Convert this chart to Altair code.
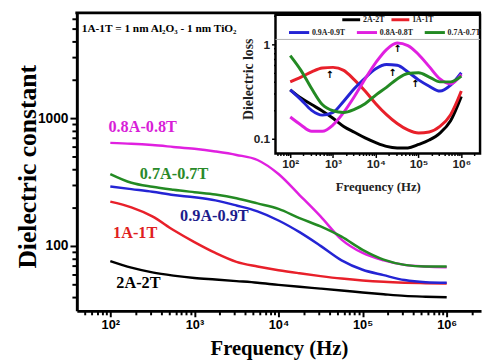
import altair as alt
import pandas as pd

# ---------------- data ----------------
freq = [100, 178, 316, 562, 1000, 1778, 3162, 5623, 10000, 17783, 31623,
        56234, 100000, 177828, 316228, 562341, 1000000]
series = ["2A-2T", "1A-1T", "0.9A-0.9T", "0.8A-0.8T", "0.7A-0.7T"]
colors = ["#000000", "#e8202a", "#2424d4", "#e020e0", "#238a23"]

eps_2A = [76, 67.5, 62, 58.5, 56, 54.5, 53, 51.5, 49.5, 47.8, 46.3, 44.8, 43.2, 41.8, 40.6, 40, 39.6]
eps_1A = [222, 200, 170, 133, 107, 88, 75, 69, 64.5, 61, 58, 55.5, 53.6, 52.3, 51.5, 51, 50.7]
eps_09 = [292, 278, 265, 250, 240, 227, 207, 186, 158, 128, 100, 77, 65, 59, 54, 52, 51.5]
eps_08 = [640, 630, 615, 595, 575, 548, 515, 470, 365, 250, 170, 112, 88, 77, 71, 69, 68]
eps_07 = [365, 312, 290, 275, 263, 252, 236, 215, 195, 165, 142, 118, 93, 78, 71, 69, 69]

loss_2A = [0.33, 0.27, 0.23, 0.197, 0.165, 0.135, 0.117, 0.102, 0.091, 0.083, 0.080, 0.080, 0.087, 0.097, 0.115, 0.155, 0.28]
loss_1A = [0.40, 0.45, 0.51, 0.56, 0.57, 0.53, 0.42, 0.32, 0.235, 0.18, 0.145, 0.124, 0.115, 0.118, 0.135, 0.18, 0.32]
loss_09 = [0.33, 0.26, 0.20, 0.178, 0.19, 0.25, 0.34, 0.44, 0.55, 0.61, 0.60, 0.51, 0.42, 0.36, 0.32, 0.37, 0.50]
loss_08 = [0.17, 0.14, 0.12, 0.12, 0.14, 0.19, 0.28, 0.43, 0.64, 0.88, 1.03, 0.97, 0.78, 0.58, 0.43, 0.38, 0.48]
loss_07 = [0.76, 0.53, 0.34, 0.23, 0.198, 0.19, 0.205, 0.235, 0.29, 0.35, 0.43, 0.49, 0.50, 0.45, 0.40, 0.40, 0.46]

label_freq = [118, 108, 676, 95, 224]
label_eps = [51, 126, 170, 853, 365]
label_colors = ["#000000", "#e02020", "#1c1c8c", "#d81ed8", "#2a8a2a"]

arrow_freq = [830, 24500, 32000, 83000]
arrow_loss = [0.475, 0.50, 0.89, 0.38]

annotation = "1A-1T = 1 nm Al\u2082O\u2083 - 1 nm TiO\u2082"

# ---------------- tables ----------------
eps_all = [eps_2A, eps_1A, eps_09, eps_08, eps_07]
loss_all = [loss_2A, loss_1A, loss_09, loss_08, loss_07]
main_df = pd.DataFrame([
    {"freq": f, "value": v, "series": s, "order": i}
    for s, vals in zip(series, eps_all) for i, (f, v) in enumerate(zip(freq, vals))
])
inset_df = pd.DataFrame([
    {"freq": f, "value": v, "series": s, "order": i}
    for s, vals in zip(series, loss_all) for i, (f, v) in enumerate(zip(freq, vals))
])
labels_df = pd.DataFrame({"series": series, "freq": label_freq, "value": label_eps})
arrows_df = pd.DataFrame({"freq": arrow_freq, "value": arrow_loss})
one = pd.DataFrame({"a": [0]})

W, H = 411, 304
SERIF = "Liberation Serif"
SANS = "Liberation Sans"

# frame piece: top border of the main plot (pixel box of the plot edge)
border_df = pd.DataFrame({"x": [-1.5], "x2": [W], "y": [-0.5], "y2": [2.5]})

ticks_x = [m * 10 ** k for k in range(1, 7) for m in range(1, 10) if 50 <= m * 10 ** k <= 2000000]
ticks_y = [m * 10 ** k for k in range(1, 4) for m in range(1, 10) if 40 <= m * 10 ** k <= 6000]
sup_expr = ("datum.value == 100 ? '10\u00b2' : datum.value == 1000 ? '10\u00b3' : "
            "datum.value == 10000 ? '10\u2074' : datum.value == 100000 ? '10\u2075' : "
            "datum.value == 1000000 ? '10\u2076' : ''")

# ---------------- main chart ----------------
xs_main = alt.Scale(type="log", domain=[40.0, 2.56e6], nice=False)
ys_main = alt.Scale(type="log", domain=[31.0, 6780], nice=False)

x_main_axis = alt.Axis(
    values=ticks_x, labelExpr=sup_expr, title="Frequency (Hz)",
    titleFont=SERIF, titleFontSize=21, titleFontWeight="bold", titleColor="black",
    titleBaseline="alphabetic", titleY=44,
    labelFont=SANS, labelFontSize=13, labelFontWeight="bold", labelColor="black",
    labelOverlap=False, labelFlush=False, labelPadding=2,
    domainColor="black", domainWidth=3, tickColor="black", tickWidth=2,
    tickSize={"condition": {"test": "indexof([100,1000,10000,100000,1000000], datum.value) >= 0", "value": 6}, "value": 4},
    grid=False,
)
y_main_axis = alt.Axis(
    values=ticks_y, labelExpr="datum.value == 100 ? '100' : datum.value == 1000 ? '1000' : ''",
    title="Dielectric constant",
    titleFont=SERIF, titleFontSize=26, titleFontWeight="bold", titleColor="black",
    titleAngle=270, titleX=-50, titleY=157, titleBaseline="middle", titleAlign="center",
    labelFont=SANS, labelFontSize=14, labelFontWeight="bold", labelColor="black",
    labelOverlap=False, labelFlush=False, labelPadding=2,
    domainColor="black", domainWidth=3, tickColor="black", tickWidth=2,
    tickSize={"condition": {"test": "indexof([100,1000], datum.value) >= 0", "value": 7}, "value": 5},
    grid=False,
)

main_lines = alt.Chart(main_df).mark_line(strokeWidth=2.5, interpolate="monotone").encode(
    x=alt.X("freq:Q", scale=xs_main, axis=x_main_axis),
    y=alt.Y("value:Q", scale=ys_main, axis=y_main_axis),
    color=alt.Color("series:N", scale=alt.Scale(domain=series, range=colors), legend=None),
    order="order:Q",
)
main_labels = alt.Chart(labels_df).mark_text(
    font=SERIF, fontSize=16.5, fontWeight="bold", align="left", baseline="middle"
).encode(
    x=alt.X("freq:Q", scale=xs_main),
    y=alt.Y("value:Q", scale=ys_main),
    text="series:N",
    fill=alt.Fill("series:N", scale=alt.Scale(domain=series, range=label_colors), legend=None),
)
annot = alt.Chart(one).mark_text(
    text=annotation, font=SERIF, fontSize=11.5, fontWeight="bold", align="left",
    baseline="middle", color="black"
).encode(x=alt.value(5), y=alt.value(17))

main = alt.layer(main_lines, main_labels, annot)

# ---------------- inset ----------------
xs_in = alt.Scale(type="log", domain=[45.2, 2.74e6], range=[202, 410], nice=False)
ys_in = alt.Scale(type="log", domain=[0.0698, 2.05], range=[144, 3], nice=False)

x_in_axis = alt.Axis(
    orient="bottom", offset=-(H - 144), values=ticks_x, labelExpr=sup_expr,
    title="Frequency (Hz)", titleFont=SERIF, titleFontSize=13, titleFontWeight="bold",
    titleColor="#222", titleBaseline="alphabetic", titleY=38,
    labelFont=SANS, labelFontSize=12, labelFontWeight="bold", labelColor="#222",
    labelOverlap=False, labelFlush=False, labelPadding=1,
    domain=False, tickColor="black", tickWidth=1.5,
    tickSize={"condition": {"test": "indexof([100,1000,10000,100000,1000000], datum.value) >= 0", "value": 4}, "value": 2},
    grid=False,
)
y_in_axis = alt.Axis(
    orient="left", offset=-202,
    values=[0.1, 0.2, 0.3, 0.4, 0.5, 0.6, 0.7, 0.8, 0.9, 1, 2],
    labelExpr="datum.value == 0.1 ? '0.1' : datum.value == 1 ? '1' : ''",
    title="Dielectric loss", titleFont=SERIF, titleFontSize=14, titleFontWeight="bold",
    titleColor="#222", titleAngle=270, titleX=-27, titleY=68, titleBaseline="middle",
    titleAlign="center",
    labelFont=SANS, labelFontSize=12, labelFontWeight="bold", labelColor="#222",
    labelOverlap=False, labelFlush=False, labelPadding=2,
    domain=False, tickColor="black", tickWidth=1.5,
    tickSize={"condition": {"test": "datum.value == 0.1 || datum.value == 1", "value": 4}, "value": 2},
    grid=False,
)

frame = alt.Chart(one).mark_rect(fill="white", stroke="black", strokeWidth=2.5).encode(
    x=alt.value(202), x2=alt.value(410), y=alt.value(3), y2=alt.value(144)
)
legend_rule = alt.Chart(one).mark_rule(color="#b0b0b0", strokeWidth=1).encode(
    x=alt.value(202), x2=alt.value(410), y=alt.value(28)
)

legend_common = dict(
    orient="none", direction="horizontal", title=None, symbolType="stroke",
    symbolStrokeWidth=3, labelFont=SERIF, labelFontSize=8,
    labelFontWeight="bold", labelColor="#222", labelOffset=1, padding=0,
)
in_a = alt.Chart(inset_df[inset_df.series.isin(series[:2])]).mark_line(
    strokeWidth=3, interpolate="monotone"
).encode(
    x=alt.X("freq:Q", scale=xs_in, axis=x_in_axis),
    y=alt.Y("value:Q", scale=ys_in, axis=y_in_axis),
    stroke=alt.Stroke("series:N", scale=alt.Scale(domain=series[:2], range=colors[:2]),
                      legend=alt.Legend(legendX=268, legendY=-3, columnPadding=0,
                                        symbolSize=330, **legend_common)),
    order="order:Q",
)
in_b = alt.Chart(inset_df[inset_df.series.isin(series[2:])]).mark_line(
    strokeWidth=3, interpolate="monotone"
).encode(
    x=alt.X("freq:Q", scale=xs_in),
    y=alt.Y("value:Q", scale=ys_in),
    color=alt.Color("series:N", scale=alt.Scale(domain=series[2:], range=colors[2:]),
                    legend=alt.Legend(legendX=214, legendY=9, columnPadding=5,
                                      symbolSize=420, **legend_common)),
    order="order:Q",
)
arrows = alt.Chart(arrows_df).mark_text(
    text="\u2191", font="DejaVu Sans", fontSize=10, fontWeight="bold", color="black",
    baseline="middle", align="center"
).encode(
    x=alt.X("freq:Q", scale=xs_in),
    y=alt.Y("value:Q", scale=ys_in),
)

inset = alt.layer(frame, legend_rule, in_a, in_b, arrows)

# top edge of the main frame
top_border = alt.Chart(border_df).mark_rect(color="black").encode(
    x=alt.X("x:Q", scale=None), x2="x2:Q", y=alt.Y("y:Q", scale=None), y2="y2:Q"
)

chart = alt.layer(main, inset, top_border).resolve_scale(
    x="independent", y="independent", color="independent", fill="independent", stroke="independent"
).properties(
    width=W, height=H,
    autosize=alt.AutoSizeParams(type="none"),
    padding={"left": 70, "top": 1, "right": 2, "bottom": 47},
    background="white",
).configure_view(strokeWidth=0)

chart.save("out.html", embed_options={"renderer": "svg", "actions": False})
